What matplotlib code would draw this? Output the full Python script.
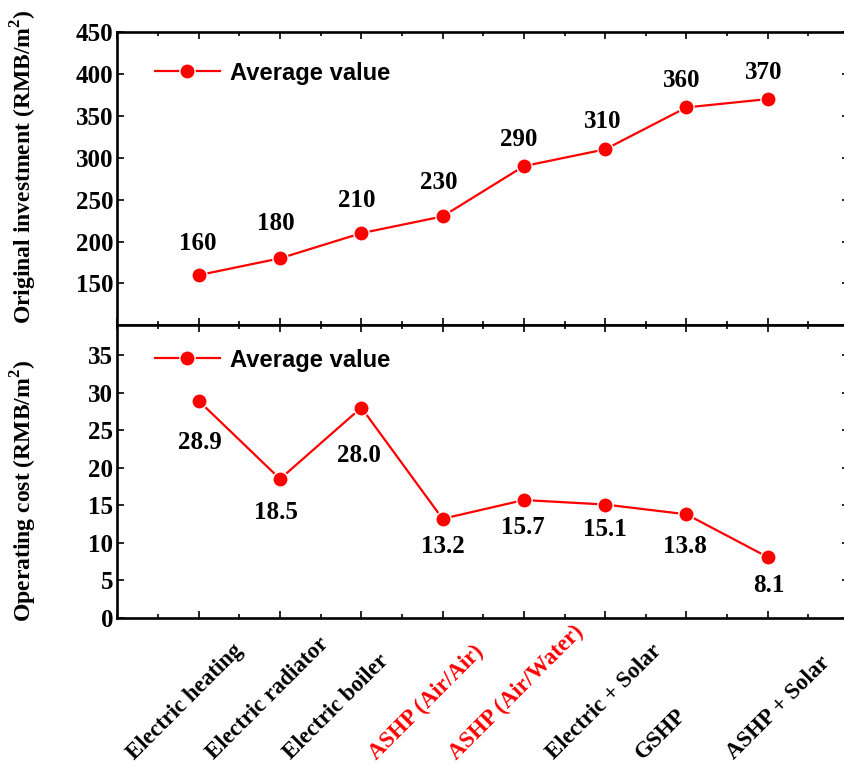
import matplotlib
matplotlib.use("Agg")
import matplotlib.pyplot as plt
import matplotlib.transforms as mtransforms
from matplotlib.ticker import MultipleLocator

SERIF = "Liberation Serif"
SANS = "Liberation Sans"

plt.rcParams["mathtext.fontset"] = "custom"
plt.rcParams["mathtext.bf"] = SERIF + ":bold"
plt.rcParams["mathtext.rm"] = SERIF

systems = ["Electric heating", "Electric radiator", "Electric boiler", "ASHP (Air/Air)",
           "ASHP (Air/Water)", "Electric + Solar", "GSHP", "ASHP + Solar"]
label_colors = ["black", "black", "black", "red", "red", "black", "black", "black"]
investment = [160, 180, 210, 230, 290, 310, 360, 370]
operating = [28.9, 18.5, 28.0, 13.2, 15.7, 15.1, 13.8, 8.1]
investment_text = ["160", "180", "210", "230", "290", "310", "360", "370"]
operating_text = ["28.9", "18.5", "28.0", "13.2", "15.7", "15.1", "13.8", "8.1"]

# label offsets in pixels (dx, dy)
inv_offsets = [(-1, 32), (-4, 35), (-5, 33), (-4, 34), (-5, 27), (-2, 28), (-5, 27), (-4, 27)]
op_offsets = [(1, -42), (-4, -34), (-2, -48), (0, -28), (-1, -27), (0, -25), (-1, -32), (1, -28)]
# horizontal shift of rotated category labels, pixels
xlabel_shift = [-14, -12, -25, -16, -7, -1, -25, 11]

x = list(range(1, len(systems) + 1))

fig = plt.figure(figsize=(8.44, 7.67), dpi=100)
ax_top = fig.add_axes([0.1392, 0.5763, 0.8667, 0.3820])
ax_bot = fig.add_axes([0.1392, 0.1943, 0.8667, 0.3820])


def style_axes(ax):
    for s in ax.spines.values():
        s.set_linewidth(1.9)
    ax.set_xlim(0, 9)
    ax.xaxis.set_major_locator(MultipleLocator(1))
    ax.xaxis.set_minor_locator(MultipleLocator(0.5))
    ax.tick_params(which="both", direction="in", top=True, right=True, width=1.2)
    ax.tick_params(which="major", length=5)
    ax.tick_params(which="minor", length=3, left=False, right=False)
    ax.tick_params(axis="y", labelsize=18, pad=3)
    for lab in ax.get_yticklabels():
        lab.set_fontfamily(SERIF)
        lab.set_fontweight("bold")


def draw(ax, values, texts, offsets):
    ax.plot(x, values, color="red", lw=1.6, marker="o", ms=11, mfc="red",
            mec="white", mew=1.0, label="Average value")
    for xi, v, t, (dx, dy) in zip(x, values, texts, offsets):
        ax.annotate(t, (xi, v), xytext=(dx, dy), textcoords="offset pixels",
                    ha="center", va="center", fontsize=18, fontfamily=SERIF,
                    fontweight="bold")
    ax.legend(loc="center left", frameon=False, borderpad=0, borderaxespad=0,
              handlelength=2.75, handletextpad=0.4,
              prop={"family": SANS, "weight": "bold", "size": 17.1})


# top panel
ax_top.set_ylim(100.5, 450)
ax_top.set_yticks([150, 200, 250, 300, 350, 400, 450])
style_axes(ax_top)
draw(ax_top, investment, investment_text, inv_offsets)
ax_top.legend_.set_bbox_to_anchor((0.051, 0.86))
ax_top.tick_params(axis="x", labelbottom=False)
ax_top.set_ylabel("Original investment (RMB/m$^{\\mathbf{2}}$)", fontsize=17,
                  fontfamily=SERIF, fontweight="bold")
ax_top.yaxis.set_label_coords(-0.107, 0.54)

# bottom panel
ax_bot.set_ylim(0, 39)
ax_bot.set_yticks([0, 5, 10, 15, 20, 25, 30, 35])
style_axes(ax_bot)
draw(ax_bot, operating, operating_text, op_offsets)
ax_bot.legend_.set_bbox_to_anchor((0.051, 0.88))
ax_bot.set_ylabel("Operating cost (RMB/m$^{\\mathbf{2}}$)", fontsize=17,
                  fontfamily=SERIF, fontweight="bold")
ax_bot.yaxis.set_label_coords(-0.107, 0.435)

ax_bot.set_xticks(x)
ax_bot.set_xticklabels(systems, rotation=45, ha="center", va="bottom",
                       fontsize=16.5, fontfamily=SERIF, fontweight="bold")
ax_bot.tick_params(axis="x", which="major", pad=105)
for lab, c, sh in zip(ax_bot.get_xticklabels(), label_colors, xlabel_shift):
    lab.set_color(c)
    shift = mtransforms.ScaledTranslation(sh / 100, 0, fig.dpi_scale_trans)
    lab.set_transform(lab.get_transform() + shift)

fig.savefig("out.png", dpi=100)
